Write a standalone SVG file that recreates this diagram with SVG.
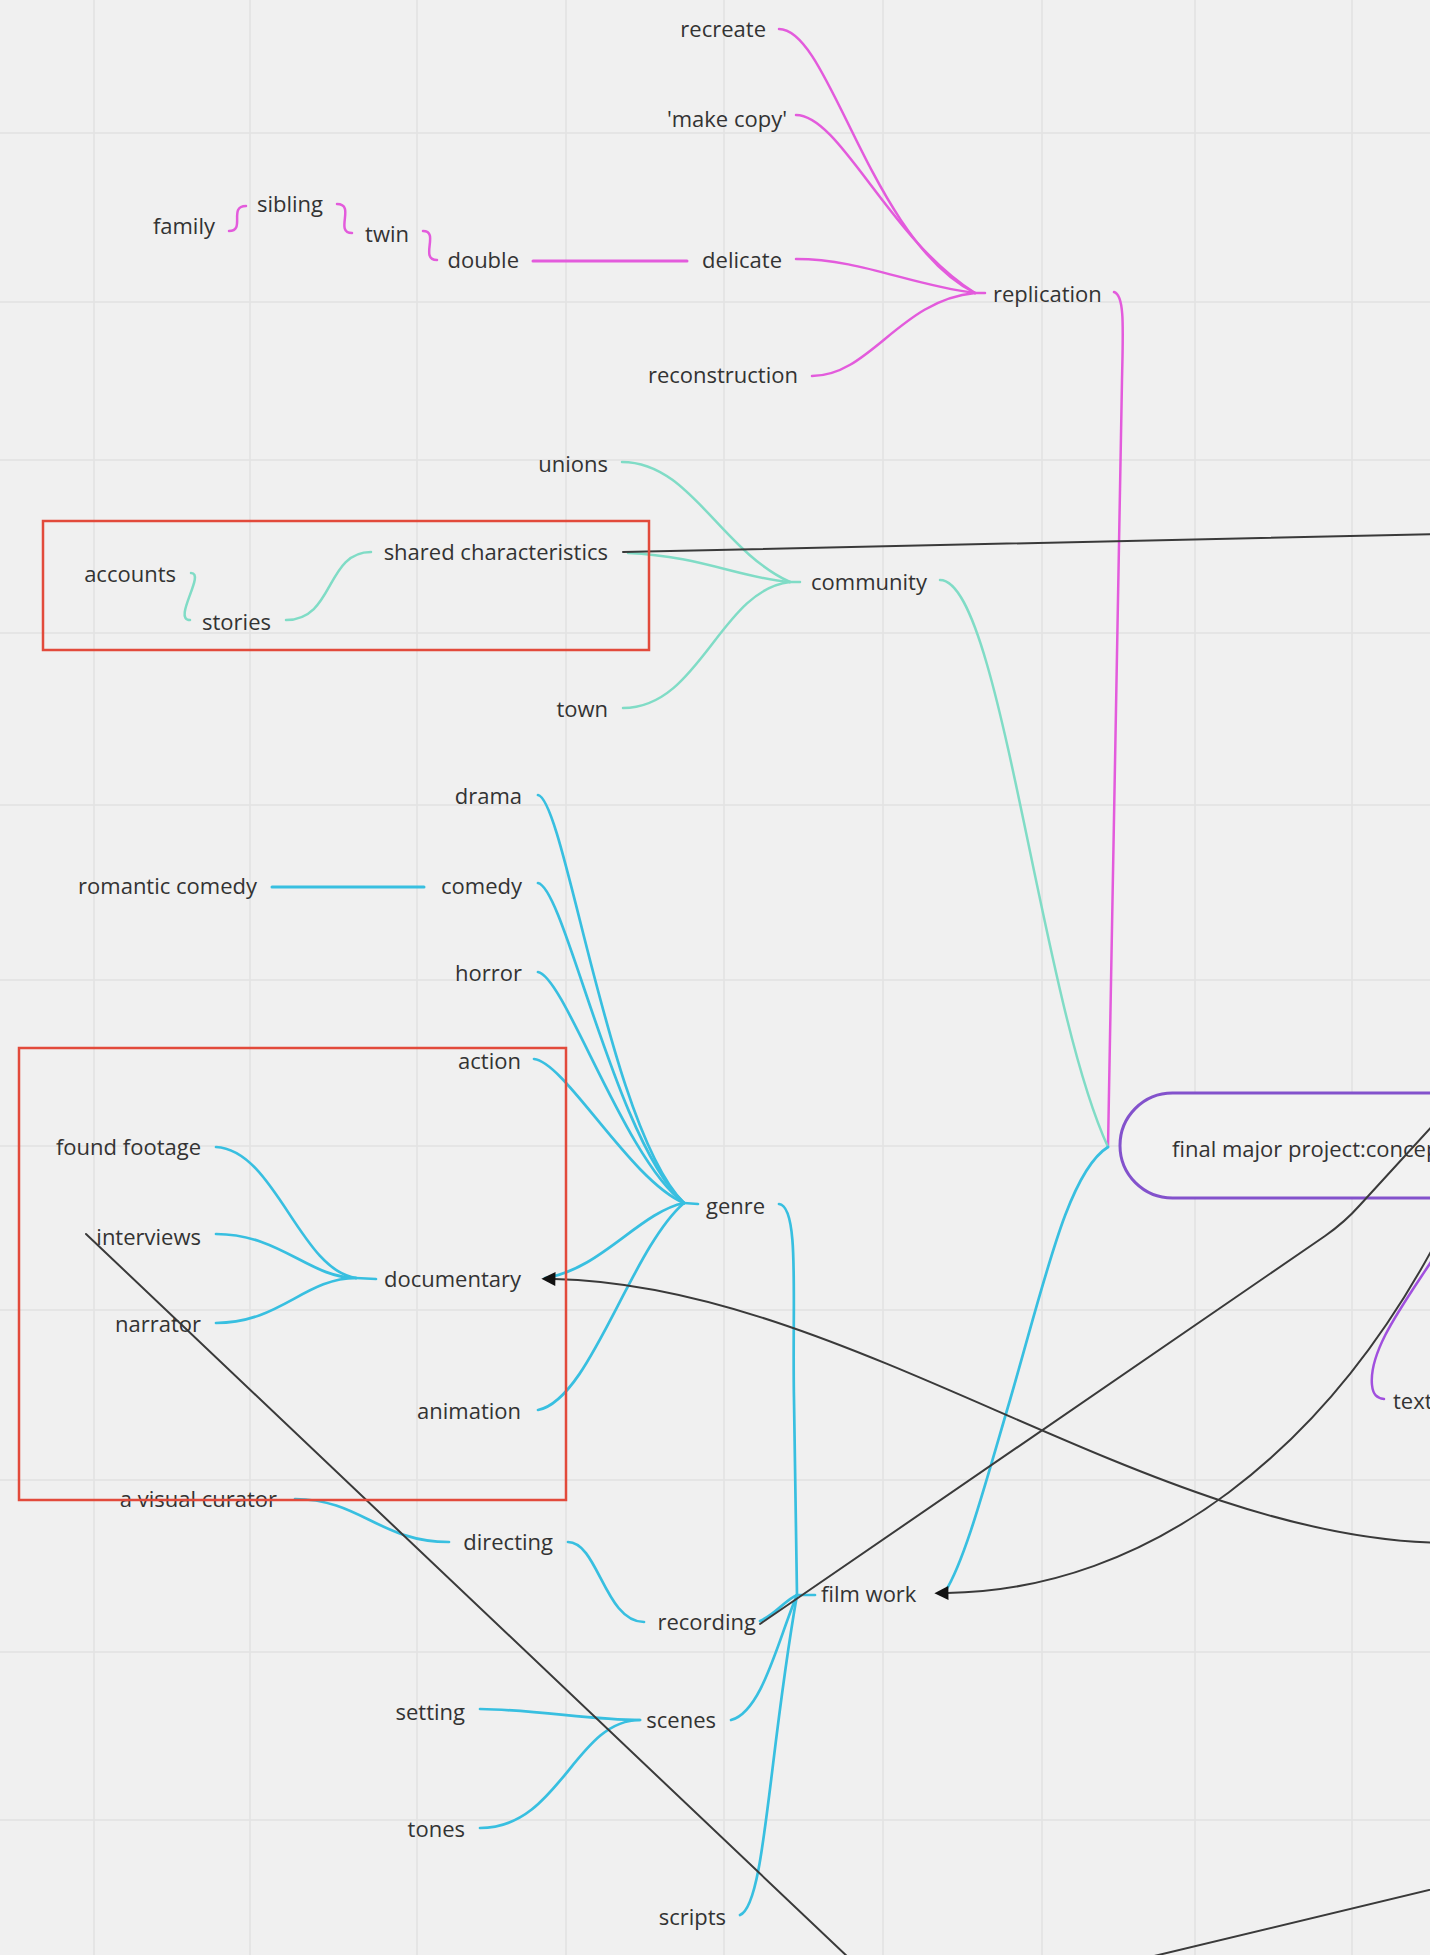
<svg xmlns="http://www.w3.org/2000/svg" width="1430" height="1955" viewBox="0 0 1430 1955">
<style>
.bg{fill:#f0f0f0}
.grid line{stroke:#e2e2e2;stroke-width:1.5}
text{font-family:"Open Sans","Noto Sans","Liberation Sans",sans-serif;font-size:22px;fill:#333}
.e{text-anchor:end}
.c{fill:none;stroke-linecap:round;stroke-linejoin:round}
.pink{stroke:#e35bdc;stroke-width:2.5}
.teal{stroke:#80dcc6;stroke-width:2.5}
.cyan{stroke:#38bfe0;stroke-width:2.7}
.purple{stroke:#a150de;stroke-width:2.5}
.dark{stroke:#3a3a3a;stroke-width:2}
.frame{fill:none;stroke:#e24a3b;stroke-width:2.5}
.pill{fill:#f2f2f2;stroke:#8352cc;stroke-width:3}
</style>
<defs>
<marker id="arr" viewBox="0 0 10 10" refX="1" refY="5" markerUnits="userSpaceOnUse" markerWidth="18" markerHeight="14" orient="auto">
<path d="M0,0 L10,5 L0,10 z" fill="#111"/>
</marker>
</defs>
<rect class="bg" x="0" y="0" width="1430" height="1955"/>
<g class="grid">
<line x1="94" y1="0" x2="94" y2="1955"/>
<line x1="250" y1="0" x2="250" y2="1955"/>
<line x1="417" y1="0" x2="417" y2="1955"/>
<line x1="566" y1="0" x2="566" y2="1955"/>
<line x1="724" y1="0" x2="724" y2="1955"/>
<line x1="883" y1="0" x2="883" y2="1955"/>
<line x1="1042" y1="0" x2="1042" y2="1955"/>
<line x1="1195" y1="0" x2="1195" y2="1955"/>
<line x1="1352" y1="0" x2="1352" y2="1955"/>
<line x1="0" y1="133" x2="1430" y2="133"/>
<line x1="0" y1="302" x2="1430" y2="302"/>
<line x1="0" y1="460" x2="1430" y2="460"/>
<line x1="0" y1="633" x2="1430" y2="633"/>
<line x1="0" y1="805" x2="1430" y2="805"/>
<line x1="0" y1="980" x2="1430" y2="980"/>
<line x1="0" y1="1146" x2="1430" y2="1146"/>
<line x1="0" y1="1310" x2="1430" y2="1310"/>
<line x1="0" y1="1480" x2="1430" y2="1480"/>
<line x1="0" y1="1652" x2="1430" y2="1652"/>
<line x1="0" y1="1820" x2="1430" y2="1820"/>
</g>
<g id="node-final-major-project">
<rect class="pill" x="1120" y="1093" width="520" height="105" rx="52.5"/>
<text x="1172" y="1157">final major project:concep</text>
</g>
<g id="connectors">
<path class="c pink" d="M 779 29 C 830 29, 870 240, 975 293"/>
<path class="c pink" d="M 796 115 C 840 115, 890 240, 975 293"/>
<path class="c pink" d="M 796 259 C 860 259, 910 285, 975 293"/>
<path class="c pink" d="M 812 376 C 870 376, 900 300, 975 293"/>
<path class="c pink" d="M 975 293 L 985 293"/>
<path class="c pink" d="M 1114 292 C 1125 295, 1123 330, 1122 380 C 1118 700, 1112 1000, 1108 1147"/>
<path class="c pink" style="stroke-width:3" d="M 533 261 L 687 261"/>
<path class="c pink" d="M 229 231 C 246 231, 228 206, 246 206"/>
<path class="c pink" d="M 337 204 C 356 204, 334 233, 352 233"/>
<path class="c pink" d="M 423 231 C 440 231, 419 260, 437 260"/>
<path class="c teal" d="M 940 580 C 1000 580, 1040 1000, 1108 1147"/>
<path class="c teal" d="M 622 462 C 690 462, 720 550, 790 582"/>
<path class="c teal" d="M 628 553 C 700 556, 740 578, 790 582"/>
<path class="c teal" d="M 623 708 C 700 708, 720 590, 790 582"/>
<path class="c teal" d="M 790 582 L 800 582"/>
<path class="c teal" d="M 191 573 C 206 573, 172 620, 190 620"/>
<path class="c teal" d="M 286 620 C 335 620, 325 552, 371 552"/>
<path class="c cyan" d="M 538 795 C 565 800, 610 1130, 684 1203"/>
<path class="c cyan" d="M 538 883 C 565 888, 615 1140, 684 1203"/>
<path class="c cyan" d="M 538 972 C 565 977, 625 1160, 684 1203"/>
<path class="c cyan" d="M 534 1059 C 565 1062, 630 1180, 684 1203"/>
<path class="c cyan" d="M 684 1203 C 640 1212, 600 1270, 545 1278"/>
<path class="c cyan" d="M 538 1410 C 590 1400, 630 1250, 684 1203"/>
<path class="c cyan" d="M 684 1203 L 698 1204"/>
<path class="c cyan" style="stroke-width:3" d="M 272 887 L 424 887"/>
<path class="c cyan" d="M 216 1147 C 275 1150, 300 1270, 356 1278"/>
<path class="c cyan" d="M 216 1234 C 280 1234, 310 1278, 356 1278"/>
<path class="c cyan" d="M 216 1323 C 280 1323, 305 1278, 356 1278"/>
<path class="c cyan" d="M 356 1278 L 376 1279"/>
<path class="c cyan" d="M 779 1204 C 800 1206, 792 1300, 794 1400 C 795 1500, 796 1570, 797 1595"/>
<path class="c cyan" d="M 1108 1147 C 1068 1172, 1045 1280, 1010 1400 C 985 1485, 965 1560, 945 1592"/>
<path class="c cyan" d="M 295 1499 C 360 1499, 380 1542, 449 1542"/>
<path class="c cyan" d="M 568 1542 C 598 1542, 605 1622, 644 1622"/>
<path class="c cyan" d="M 760 1621 C 775 1615, 785 1600, 797 1595"/>
<path class="c cyan" d="M 731 1720 C 762 1712, 778 1640, 797 1595"/>
<path class="c cyan" d="M 740 1915 C 765 1905, 768 1760, 797 1595"/>
<path class="c cyan" d="M 797 1595 L 815 1595"/>
<path class="c cyan" d="M 480 1709 C 540 1710, 590 1720, 640 1720"/>
<path class="c cyan" d="M 480 1828 C 560 1828, 575 1720, 640 1720"/>
<path class="c purple" d="M 1448 1235 C 1415 1290, 1368 1345, 1372 1385 C 1373 1395, 1377 1398, 1384 1399"/>
<path class="c dark" d="M 623 552 L 1445 534"/>
<path class="c dark" d="M 760 1624 L 1325 1236 Q 1345 1222, 1360 1205 L 1445 1112"/>
<path class="c dark" d="M 86 1234 L 870 1978"/>
<path class="c dark" d="M 1100 1969 L 1450 1885"/>
<path class="c dark" d="M 1445 1543 C 1150 1540, 850 1285, 554 1279" marker-end="url(#arr)"/>
<path class="c dark" d="M 1445 1225 C 1330 1450, 1150 1590, 947 1593" marker-end="url(#arr)"/>
</g>
<g id="node-recreate"><text class="e" x="766" y="37">recreate</text></g>
<g id="node-make-copy"><text class="e" x="787" y="127">'make copy'</text></g>
<g id="node-family"><text class="e" x="215" y="234">family</text></g>
<g id="node-sibling"><text class="e" x="323" y="212">sibling</text></g>
<g id="node-twin"><text class="e" x="409" y="242">twin</text></g>
<g id="node-double"><text class="e" x="519" y="268">double</text></g>
<g id="node-delicate"><text class="e" x="782" y="268">delicate</text></g>
<g id="node-replication"><text x="993" y="302">replication</text></g>
<g id="node-reconstruction"><text class="e" x="798" y="383">reconstruction</text></g>
<g id="node-unions"><text class="e" x="608" y="472">unions</text></g>
<g id="node-shared-characteristics"><text class="e" x="608" y="560">shared characteristics</text></g>
<g id="node-accounts"><text class="e" x="176" y="582">accounts</text></g>
<g id="node-stories"><text class="e" x="271" y="630">stories</text></g>
<g id="node-community"><text x="811" y="590">community</text></g>
<g id="node-town"><text class="e" x="608" y="717">town</text></g>
<g id="node-drama"><text class="e" x="522" y="804">drama</text></g>
<g id="node-romantic-comedy"><text class="e" x="257" y="894">romantic comedy</text></g>
<g id="node-comedy"><text class="e" x="522" y="894">comedy</text></g>
<g id="node-horror"><text class="e" x="522" y="981">horror</text></g>
<g id="node-action"><text class="e" x="521" y="1069">action</text></g>
<g id="node-found-footage"><text class="e" x="201" y="1155">found footage</text></g>
<g id="node-genre"><text x="706" y="1214">genre</text></g>
<g id="node-interviews"><text class="e" x="201" y="1245">interviews</text></g>
<g id="node-documentary"><text class="e" x="521" y="1287">documentary</text></g>
<g id="node-narrator"><text class="e" x="201" y="1332">narrator</text></g>
<g id="node-animation"><text class="e" x="521" y="1419">animation</text></g>
<g id="node-visual-curator"><text class="e" x="277" y="1507">a visual curator</text></g>
<g id="node-directing"><text class="e" x="553" y="1550">directing</text></g>
<g id="node-recording"><text class="e" x="756" y="1630">recording</text></g>
<g id="node-film-work"><text x="821" y="1602">film work</text></g>
<g id="node-setting"><text class="e" x="465" y="1720">setting</text></g>
<g id="node-scenes"><text class="e" x="716" y="1728">scenes</text></g>
<g id="node-tones"><text class="e" x="465" y="1837">tones</text></g>
<g id="node-scripts"><text class="e" x="726" y="1925">scripts</text></g>
<g id="node-text"><text x="1393" y="1409">text</text></g>
<g id="frames">
<rect class="frame" x="43" y="521" width="606" height="129"/>
<rect class="frame" x="19" y="1048" width="547" height="452"/>
</g>
</svg>
